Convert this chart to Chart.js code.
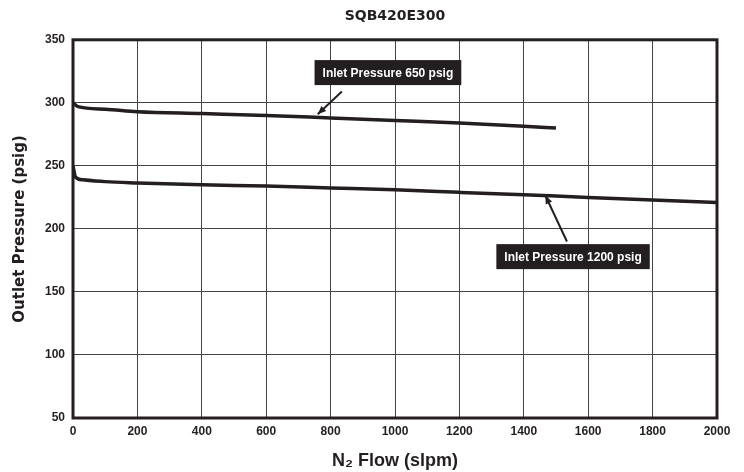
<!DOCTYPE html>
<html>
<head>
<meta charset="utf-8">
<script src="https://cdn.jsdelivr.net/npm/chart.js@4/dist/chart.umd.min.js"></script>
<style>
  html, body { margin: 0; padding: 0; background: #fff; }
  #wrap { width: 744px; height: 472px; }
</style>
</head>
<body>
<div id="wrap"><canvas id="chart" width="744" height="472"></canvas></div>
<script>
// data
const flow650 = [0, 15, 100, 200, 400, 600, 800, 1000, 1200, 1400, 1500];
const outlet650 = [300, 297, 295, 293, 291.5, 290, 288, 286, 284, 281.5, 280];

const flow1200 = [0, 8, 30, 100, 200, 400, 600, 800, 1000, 1200, 1400, 1600, 1800, 2000];
const outlet1200 = [250, 241, 239, 237.5, 236.5, 235, 234, 232.5, 231, 229, 227, 225, 223, 221];

const xTicks = [0, 200, 400, 600, 800, 1000, 1200, 1400, 1600, 1800, 2000];
const yTicks = [50, 100, 150, 200, 250, 300, 350];

// callouts: label box centre + arrow tail/head in data units
const callouts = [
  { text: 'Inlet Pressure 650 psig', box: [978, 324], tail: [835, 309], head: [760, 291] },
  { text: 'Inlet Pressure 1200 psig', box: [1553, 178], tail: [1534, 190], head: [1467, 226.5] }
];

const toPts = (xs, ys) => xs.map((x, i) => ({ x: x, y: ys[i] }));

const frame = {
  id: 'frame',
  afterDatasetsDraw(chart) {
    const { ctx, chartArea: a, scales } = chart;
    ctx.save();
    // callouts
    callouts.forEach(c => {
      const tx = scales.x.getPixelForValue(c.tail[0]), ty = scales.y.getPixelForValue(c.tail[1]);
      const hx = scales.x.getPixelForValue(c.head[0]), hy = scales.y.getPixelForValue(c.head[1]);
      ctx.strokeStyle = '#231f20';
      ctx.fillStyle = '#231f20';
      ctx.lineWidth = 2;
      ctx.beginPath(); ctx.moveTo(tx, ty); ctx.lineTo(hx, hy); ctx.stroke();
      const ang = Math.atan2(hy - ty, hx - tx);
      ctx.beginPath();
      ctx.moveTo(hx, hy);
      ctx.lineTo(hx - 9 * Math.cos(ang - 0.4), hy - 9 * Math.sin(ang - 0.4));
      ctx.lineTo(hx - 9 * Math.cos(ang + 0.4), hy - 9 * Math.sin(ang + 0.4));
      ctx.closePath(); ctx.fill();

      ctx.font = 'bold 12px "Liberation Sans", Arial, sans-serif';
      const w = ctx.measureText(c.text).width + 16, h = 25;
      const bx = scales.x.getPixelForValue(c.box[0]), by = scales.y.getPixelForValue(c.box[1]);
      ctx.fillRect(bx - w / 2, by - h / 2, w, h);
      ctx.fillStyle = '#fff';
      ctx.textAlign = 'center';
      ctx.textBaseline = 'middle';
      ctx.fillText(c.text, bx, by + 1);
    });
    // heavy border round the plot
    ctx.strokeStyle = '#231f20';
    ctx.lineWidth = 3;
    ctx.strokeRect(a.left, a.top, a.right - a.left, a.bottom - a.top);
    ctx.restore();
  }
};

const tickFont = { family: '"Liberation Sans", Arial, sans-serif', size: 12, weight: 'bold' };

new Chart(document.getElementById('chart'), {
  type: 'line',
  data: {
    datasets: [
      { label: 'Inlet Pressure 650 psig', data: toPts(flow650, outlet650) },
      { label: 'Inlet Pressure 1200 psig', data: toPts(flow1200, outlet1200) }
    ]
  },
  options: {
    responsive: false,
    animation: false,
    layout: { padding: { left: 11, right: 27, top: 0, bottom: 0 } },
    elements: {
      point: { radius: 0 },
      line: { borderColor: '#231f20', borderWidth: 3.5, cubicInterpolationMode: 'monotone', fill: false, borderCapStyle: 'butt' }
    },
    plugins: {
      legend: { display: false },
      tooltip: { enabled: false },
      title: {
        display: true,
        text: 'SQB420E300',
        fullSize: false,
        color: '#231f20',
        font: { family: '"DejaVu Sans", sans-serif', size: 14, weight: 'bold' },
        padding: { top: 8, bottom: 15 }
      }
    },
    scales: {
      x: {
        type: 'linear', min: 0, max: 2000,
        afterBuildTicks: s => { s.ticks = xTicks.map(v => ({ value: v })); },
        afterFit: s => { s.height = 54; },
        ticks: { color: '#231f20', font: tickFont, padding: 6, maxRotation: 0, callback: v => String(v) },
        grid: { color: '#444', lineWidth: 1, drawTicks: false },
        border: { display: false },
        title: {
          display: true, text: 'N\u2082 Flow (slpm)', color: '#231f20',
          font: { family: '"Liberation Sans", Arial, sans-serif', size: 18, weight: 'bold' },
          padding: { top: 4, bottom: 0 }
        }
      },
      y: {
        min: 50, max: 350,
        afterBuildTicks: s => { s.ticks = yTicks.map(v => ({ value: v })); },
        afterFit: s => { s.width = 62; },
        ticks: { color: '#231f20', font: tickFont, padding: 8, callback: v => String(v) },
        grid: { color: '#444', lineWidth: 1, drawTicks: false },
        border: { display: false },
        title: {
          display: true, text: 'Outlet Pressure (psig)', color: '#231f20',
          font: { family: '"DejaVu Sans", sans-serif', size: 15, weight: 'bold' },
          padding: { top: 0, bottom: 8 }
        }
      }
    }
  },
  plugins: [frame]
});
</script>
</body>
</html>
